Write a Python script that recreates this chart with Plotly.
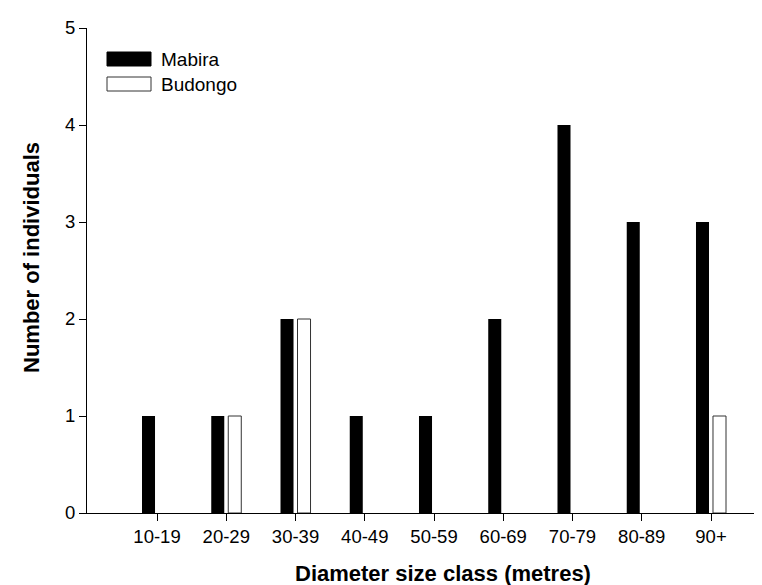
import plotly.graph_objects as go

categories = ["10-19", "20-29", "30-39", "40-49", "50-59", "60-69", "70-79", "80-89", "90+"]
mabira = [1, 1, 2, 1, 1, 2, 4, 3, 3]
budongo = [0, 1, 2, 0, 0, 0, 0, 0, 1]
series_names = ["Mabira", "Budongo"]
y_ticks = [0, 1, 2, 3, 4, 5]
x_title = "Diameter size class (metres)"
y_title = "Number of individuals"

FONT = "Liberation Sans, Arial, sans-serif"

fig = go.Figure()
fig.add_trace(go.Bar(x=categories, y=[v if v else None for v in mabira], name=series_names[0],
                     marker=dict(color="black", line=dict(width=0)), showlegend=False))
fig.add_trace(go.Bar(x=categories, y=[v if v else None for v in budongo], name=series_names[1],
                     marker=dict(color="white", line=dict(color="#333333", width=1)), showlegend=False))

W, H = 762, 585
L, R, T, B = 79, 0, 20, 80
PW, PH = W - L - R, H - T - B

fig.update_layout(
    template="none",
    width=W, height=H,
    margin=dict(l=L, r=R, t=T, b=B, pad=0),
    paper_bgcolor="white", plot_bgcolor="white",
    barmode="group", bargap=0.509, bargroupgap=0.234,
    font=dict(family=FONT, size=18.5, color="black"),
    xaxis=dict(type="category", range=[-1.011, 8.852], showline=True, linecolor="black", linewidth=1,
               ticks="outside", ticklen=7, tickcolor="black", tickwidth=1, showgrid=False, zeroline=False,
               automargin=False, tickfont=dict(size=18.5)),
    yaxis=dict(range=[0, 5], tickvals=y_ticks, showline=True, linecolor="black", linewidth=1,
               ticks="outside", ticklen=7, tickcolor="black", tickwidth=1, showgrid=False, zeroline=False,
               automargin=False, tickfont=dict(size=18.5)),
)

def fx(px):
    return (px - L) / PW

def fy(py):
    return (H - B - py) / PH

# axis titles
fig.add_annotation(xref="paper", yref="paper", x=fx(435), y=fy(579), text="<b>%s</b>" % x_title,
                   showarrow=False, xanchor="center", yanchor="bottom", borderpad=0,
                   font=dict(size=22, color="black"))
fig.add_annotation(xref="paper", yref="paper", x=fx(23), y=fy(250), text="<b>%s</b>" % y_title,
                   textangle=-90, showarrow=False, xanchor="center", yanchor="middle", borderpad=0,
                   font=dict(size=22, color="black"))

# manual legend
legend_items = [(series_names[0], "black", "black", 44, 58), (series_names[1], "white", "#333333", 69, 83)]
for name, fill, line, y0, y1 in legend_items:
    fig.add_shape(type="rect", xref="paper", yref="paper",
                  x0=fx(99), x1=fx(143), y0=fy(y1), y1=fy(y0),
                  fillcolor=fill, line=dict(color=line, width=1))
    fig.add_annotation(xref="paper", yref="paper", x=fx(151), y=fy((y0 + y1) / 2),
                       text=name, showarrow=False, xanchor="left", yanchor="middle",
                       font=dict(size=19, color="black"))

fig.write_html("out.html")
